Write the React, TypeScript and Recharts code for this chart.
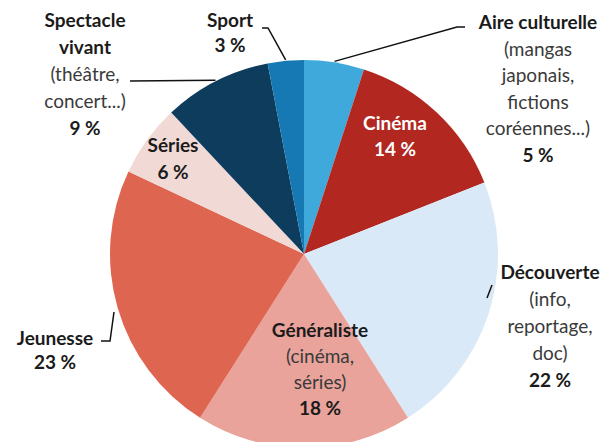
import { PieChart, Pie, Cell } from "recharts"

const categories = [
  "Aire culturelle",
  "Cinéma",
  "Découverte",
  "Généraliste",
  "Jeunesse",
  "Séries",
  "Spectacle vivant",
  "Sport",
]
const shares = [5, 14, 22, 18, 23, 6, 9, 3]
const details = [
  ["(mangas", "japonais,", "fictions", "coréennes...)"],
  [],
  ["(info,", "reportage,", "doc)"],
  ["(cinéma,", "séries)"],
  [],
  [],
  ["(théâtre,", "concert...)"],
  [],
]
const colors = [
  "#40A9DC",
  "#B2271F",
  "#DAE9F7",
  "#E9A39B",
  "#DE6550",
  "#F1DAD6",
  "#0D3C5C",
  "#1679B3",
]

const data = categories.map((name, i) => ({ name, value: shares[i] }))

// where each label block sits, and the leader line bends
const layout = [
  { x: 538, y: 29, lh: 26.5, title: ["Aire culturelle"], leader: [[457, 27], [465, 27]], white: false },
  { x: 395, y: 130, lh: 26, title: ["Cinéma"], leader: null, white: true },
  { x: 550, y: 279, lh: 27, title: ["Découverte"], leader: [[492, 285]], white: false },
  { x: 320, y: 337, lh: 26, title: ["Généraliste"], leader: null, white: false },
  { x: 55, y: 345, lh: 24, title: ["Jeunesse"], leader: [[110, 341], [101, 341]], white: false },
  { x: 173, y: 152, lh: 27, title: ["Séries"], leader: null, white: false },
  { x: 85, y: 27, lh: 27, title: ["Spectacle", "vivant"], leader: [[130, 81]], white: false },
  { x: 230, y: 27, lh: 25, title: ["Sport"], leader: [[268, 28], [262, 28]], white: false },
]

const RAD = Math.PI / 180

const renderLabel = (props: any) => {
  const { cx, cy, midAngle, outerRadius, index } = props
  const l = layout[index]
  const bold = l.white ? "#ffffff" : "#1b1b1b"
  const lines = [
    ...l.title.map(t => ({ t, b: true })),
    ...details[index].map(t => ({ t, b: false })),
    { t: shares[index] + " %", b: true },
  ]
  const ex = cx + (outerRadius + 1) * Math.cos(-midAngle * RAD)
  const ey = cy + (outerRadius + 1) * Math.sin(-midAngle * RAD)
  let pts = ""
  if (l.leader) {
    const start = index === 2 ? [487, 298] : index === 4 ? [114, 312] : [ex, ey]
    pts = [start, ...l.leader].map(p => p.join(",")).join(" ")
  }
  return (
    <g key={"lab" + index}>
      {l.leader && <polyline points={pts} fill="none" stroke="#111" strokeWidth={1.5} />}
      {lines.map((ln, j) => (
        <text
          key={j}
          x={l.x}
          y={l.y + j * l.lh}
          textAnchor="middle"
          fontFamily="Lato"
          fontSize={19}
          fontWeight={ln.b ? 700 : 400}
          fill={ln.b ? bold : "#3a3a3a"}
        >
          {ln.t}
        </text>
      ))}
    </g>
  )
}

export default function App() {
  return (
    <div style={{ position: "absolute", left: 0, top: 0 }}>
      <PieChart width={604} height={442} style={{ background: "white" }}>
        <Pie
          data={data}
          dataKey="value"
          nameKey="name"
          cx={299}
          cy={249}
          outerRadius={194}
          startAngle={90}
          endAngle={-270}
          stroke="none"
          label={renderLabel}
          labelLine={false}
          isAnimationActive={false}
        >
          {data.map((d, i) => (
            <Cell key={d.name} fill={colors[i]} />
          ))}
        </Pie>
      </PieChart>
    </div>
  )
}
